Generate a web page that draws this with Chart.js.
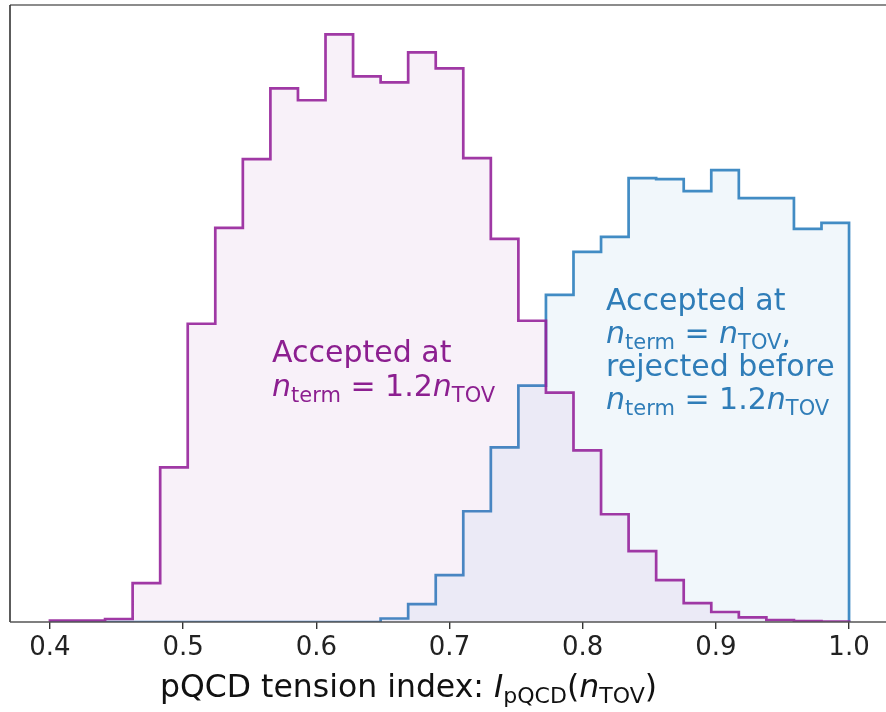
<!DOCTYPE html>
<html>
<head>
    <script src="https://cdn.jsdelivr.net/npm/chart.js"></script>
    <title>pQCD tension index</title>
    <style>
        html, body { margin: 0; padding: 0; background: #fff; overflow: hidden; }
        #wrap { width: 892px; height: 712px; }
    </style>
</head>
<body>
    <div id="wrap"><canvas id="histChart"></canvas></div>

    <script>
        // bin edges shared by both histograms (29 bins from 0.4 to 1.0)
        const binEdges = [0.4, 0.42069, 0.44138, 0.46207, 0.48276, 0.50345, 0.52414, 0.54483, 0.56552, 0.58621,
            0.6069, 0.62759, 0.64828, 0.66897, 0.68966, 0.71034, 0.73103, 0.75172, 0.77241, 0.7931,
            0.81379, 0.83448, 0.85517, 0.87586, 0.89655, 0.91724, 0.93793, 0.95862, 0.97931, 1.0];

        // counts (arbitrary units)
        const acceptedAt12 = [1.5, 1.5, 3, 39, 155, 299, 395, 464, 535, 523,
            589, 547, 541, 571, 555, 465, 384, 302, 230, 172,
            108, 71, 42, 19, 10, 4.7, 2, 1, 0.5];
        const acceptedAtTov = [0, 0, 0, 0, 0, 0, 0, 0, 0, 0,
            0, 0, 3.5, 18, 47, 111, 175, 237, 328, 371,
            386, 445, 444, 432, 453, 425, 425, 394, 400];

        const xTicks = [0.4, 0.5, 0.6, 0.7, 0.8, 0.9, 1.0];

        const purpleLine = 'rgba(150, 35, 155, 0.9)';
        const purpleFill = 'rgba(160, 60, 163, 0.07)';
        const blueLine = 'rgba(45, 128, 190, 0.9)';
        const blueFill = 'rgba(60, 140, 195, 0.07)';

        // turn bin counts into step points: up at first edge, across each bin, down at last edge
        function stepPoints(counts) {
            const pts = [{ x: binEdges[0], y: 0 }];
            counts.forEach((c, i) => pts.push({ x: binEdges[i], y: c }));
            pts.push({ x: binEdges[binEdges.length - 1], y: counts[counts.length - 1] });
            pts.push({ x: binEdges[binEdges.length - 1], y: 0 });
            return pts;
        }

        function drawRich(ctx, x, y, parts, size, color) {
            let cx = x;
            ctx.fillStyle = color;
            ctx.textBaseline = 'alphabetic';
            ctx.textAlign = 'left';
            parts.forEach(p => {
                const s = p.sub ? size * 0.7 : size;
                ctx.font = (p.it ? 'italic ' : '') + s + 'px "DejaVu Sans"';
                ctx.fillText(p.t, cx, y + (p.sub ? size * 0.2 : 0));
                cx += ctx.measureText(p.t).width;
            });
        }

        const textPlugin = {
            id: 'annot',
            afterDraw(chart) {
                const ctx = chart.ctx;
                const a = chart.chartArea;
                ctx.save();
                // spines
                ctx.lineWidth = 2;
                ctx.strokeStyle = '#8c8c8c';
                ctx.beginPath(); ctx.moveTo(a.left, a.top); ctx.lineTo(a.right, a.top); ctx.stroke();
                ctx.lineWidth = 1.6;
                ctx.strokeStyle = '#333';
                ctx.beginPath(); ctx.moveTo(a.left, a.top); ctx.lineTo(a.left, a.bottom); ctx.stroke();
                ctx.strokeStyle = '#555';
                ctx.beginPath(); ctx.moveTo(a.left, a.bottom); ctx.lineTo(a.right, a.bottom); ctx.stroke();

                const purpleText = '#8c1f90';
                const blueText = '#2f7db8';
                drawRich(ctx, 272, 362, [{ t: 'Accepted at' }], 30, purpleText);
                drawRich(ctx, 272, 396, [{ t: 'n', it: true }, { t: 'term', sub: true }, { t: ' = 1.2' },
                    { t: 'n', it: true }, { t: 'TOV', sub: true }], 30, purpleText);

                drawRich(ctx, 606, 310, [{ t: 'Accepted at' }], 30, blueText);
                drawRich(ctx, 606, 343, [{ t: 'n', it: true }, { t: 'term', sub: true }, { t: ' = ' },
                    { t: 'n', it: true }, { t: 'TOV', sub: true }, { t: ',' }], 30, blueText);
                drawRich(ctx, 606, 376, [{ t: 'rejected before' }], 30, blueText);
                drawRich(ctx, 606, 409, [{ t: 'n', it: true }, { t: 'term', sub: true }, { t: ' = 1.2' },
                    { t: 'n', it: true }, { t: 'TOV', sub: true }], 30, blueText);

                // x axis label
                drawRich(ctx, 160, 697, [{ t: 'pQCD tension index: ' }, { t: 'I', it: true }, { t: 'pQCD', sub: true },
                    { t: '(' }, { t: 'n', it: true }, { t: 'TOV', sub: true }, { t: ')' }], 31.5, '#111');
                ctx.restore();
            }
        };

        new Chart(document.getElementById('histChart'), {
            type: 'line',
            data: {
                datasets: [{
                    label: 'Accepted at n_term = 1.2 n_TOV',
                    data: stepPoints(acceptedAt12),
                    borderColor: purpleLine,
                    backgroundColor: purpleFill,
                    fill: 'origin',
                    order: 0
                }, {
                    label: 'Accepted at n_term = n_TOV, rejected before',
                    data: stepPoints(acceptedAtTov),
                    borderColor: blueLine,
                    backgroundColor: blueFill,
                    fill: 'origin',
                    order: 1
                }]
            },
            options: {
                responsive: true,
                maintainAspectRatio: false,
                animation: false,
                layout: { padding: { left: 10, top: 5, right: 3, bottom: 0 } },
                elements: {
                    line: { stepped: 'before', borderWidth: 2.7, tension: 0, borderJoinStyle: 'miter' },
                    point: { radius: 0, hoverRadius: 0 }
                },
                plugins: {
                    legend: { display: false },
                    tooltip: { enabled: false }
                },
                scales: {
                    x: {
                        type: 'linear',
                        min: 0.37,
                        max: 1.03,
                        afterFit: s => { s.height = 90; },
                        afterBuildTicks: s => { s.ticks = xTicks.map(v => ({ value: v })); },
                        grid: { drawOnChartArea: false, drawTicks: true, tickLength: 7, color: '#333', lineWidth: 1.4 },
                        border: { display: false },
                        ticks: {
                            padding: 4,
                            color: '#222',
                            font: { family: 'DejaVu Sans', size: 26 },
                            callback: v => v.toFixed(1)
                        }
                    },
                    y: {
                        display: false,
                        min: 0,
                        max: 618.5
                    }
                }
            },
            plugins: [textPlugin]
        });
    </script>
</body>
</html>
